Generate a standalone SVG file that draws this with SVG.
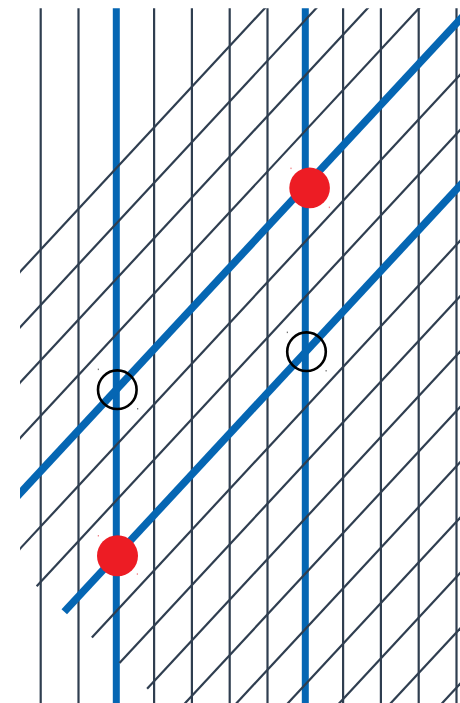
<svg xmlns="http://www.w3.org/2000/svg" width="460" height="703" viewBox="0 0 460 703">
  <style>
    .v { stroke: #2f3e50; stroke-width: 2.2; fill: none; }
    .vb { stroke: #0566b3; stroke-width: 7; fill: none; }
    .d { stroke: #2f3e50; stroke-width: 2.2; fill: none; stroke-linecap: butt; }
    .db { stroke: #0566b3; stroke-width: 7.5; fill: none; stroke-linecap: butt; }
    .dot { fill: #ed1c24; }
    .ring { fill: none; stroke: #000; stroke-width: 2.6; }
    .sr { fill: #ec6a70; }
    .sk { fill: #555; }
  </style>
  <defs>
    <clipPath id="frame">
      <rect x="20" y="8.3" width="440" height="695"/>
    </clipPath>
  </defs>
  <rect width="460" height="703" fill="#fff"/>
  <g id="connectors" clip-path="url(#frame)">
    <g id="verticals">
      <line class="v" x1="40.7" y1="0" x2="40.7" y2="703"/>
      <line class="v" x1="78.5" y1="0" x2="78.5" y2="703"/>
      <line class="v" x1="154.1" y1="0" x2="154.1" y2="703"/>
      <line class="v" x1="191.9" y1="0" x2="191.9" y2="703"/>
      <line class="v" x1="229.7" y1="0" x2="229.7" y2="703"/>
      <line class="v" x1="267.5" y1="0" x2="267.5" y2="703"/>
      <line class="v" x1="343.1" y1="0" x2="343.1" y2="703"/>
      <line class="v" x1="380.9" y1="0" x2="380.9" y2="703"/>
      <line class="v" x1="418.7" y1="0" x2="418.7" y2="703"/>
      <line class="v" x1="456.5" y1="0" x2="456.5" y2="703"/>
      <line class="vb" x1="116.3" y1="0" x2="116.3" y2="703"/>
      <line class="vb" x1="305.3" y1="0" x2="305.3" y2="703"/>
    </g>
    <g id="diagonals">
      <line class="d" x1="10" y1="282.67" x2="470" y2="-212.75"/>
      <line class="d" x1="10" y1="338.04" x2="470" y2="-157.38"/>
      <line class="d" x1="10" y1="393.41" x2="470" y2="-102.01"/>
      <line class="d" x1="10" y1="448.78" x2="470" y2="-46.64"/>
      <line class="d" x1="10" y1="559.52" x2="470" y2="64.10"/>
      <line class="d" x1="36.66" y1="586.18" x2="470" y2="119.47"/>
      <line class="d" x1="91.88" y1="637.45" x2="470" y2="230.21"/>
      <line class="d" x1="119.49" y1="663.08" x2="470" y2="285.58"/>
      <line class="d" x1="147.10" y1="688.71" x2="470" y2="340.95"/>
      <line class="d" x1="174.71" y1="714.35" x2="470" y2="396.32"/>
      <line class="d" x1="150" y1="796.33" x2="470" y2="451.69"/>
      <line class="d" x1="200" y1="797.85" x2="470" y2="507.06"/>
      <line class="d" x1="250" y1="799.37" x2="470" y2="562.43"/>
      <line class="d" x1="300" y1="800.89" x2="470" y2="617.80"/>
      <line class="d" x1="350" y1="802.41" x2="470" y2="673.17"/>
      <line class="db" x1="10" y1="504.15" x2="470" y2="8.73"/>
      <line class="db" x1="64.27" y1="611.81" x2="470" y2="174.84"/>
    </g>
  </g>
  <g id="ring-1">
    <circle class="ring" cx="117.3" cy="389.7" r="19.3"/>
    <rect class="sk" x="97.8" y="368.6" width="1" height="1.5"/>
    <rect class="sk" x="137.2" y="408" width="1" height="1.5"/>
  </g>
  <g id="ring-2">
    <circle class="ring" cx="306.5" cy="351.7" r="19.3"/>
    <rect class="sk" x="286.8" y="331.6" width="1" height="1.5"/>
    <rect class="sk" x="325.6" y="370" width="1" height="1.5"/>
  </g>
  <g id="dot-1">
    <circle class="dot" cx="309.6" cy="187.9" r="20.3"/>
    <rect class="sr" x="290.5" y="167.6" width="1" height="1.5"/>
    <rect class="sr" x="328.8" y="206.6" width="1" height="1.5"/>
  </g>
  <g id="dot-2">
    <circle class="dot" cx="117.5" cy="555.8" r="20.5"/>
    <rect class="sr" x="97.8" y="535" width="1" height="1.5"/>
    <rect class="sr" x="136.8" y="573.3" width="1" height="1.5"/>
  </g>
</svg>
